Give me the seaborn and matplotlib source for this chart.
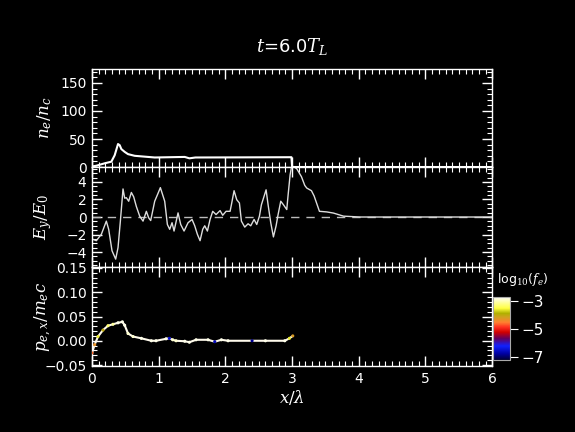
# ---------------------------
# Laser-plasma snapshot: density, field, phase space
# ---------------------------
import matplotlib
matplotlib.use("Agg")
import matplotlib.pyplot as plt
import seaborn as sns
from matplotlib.colors import LinearSegmentedColormap, Normalize
from matplotlib.cm import ScalarMappable
from matplotlib.ticker import MultipleLocator

# ---------------------------
# 1. Data
# ---------------------------
ne_x = [0.0, 0.065, 0.19, 0.29, 0.34, 0.39, 0.415, 0.44, 0.49, 0.54, 0.64, 0.94,
        1.39, 1.46, 1.55, 2.99, 3.0, 6.0]
ne_y = [1.0, 2.3, 6.6, 9.5, 21, 41, 39, 32, 27, 23, 20, 17,
        18, 15.5, 17, 17.5, 0.0, 0.0]

ey_x = [0.0, 0.065, 0.14, 0.215, 0.25, 0.30, 0.355, 0.39, 0.425, 0.465, 0.49, 0.515,
        0.55, 0.59, 0.625, 0.665, 0.715, 0.765, 0.815, 0.85, 0.88, 0.94, 0.99, 1.025,
        1.09, 1.13, 1.165, 1.2, 1.23, 1.29, 1.33, 1.38, 1.44, 1.5, 1.54, 1.58,
        1.62, 1.66, 1.69, 1.73, 1.77, 1.81, 1.86, 1.92, 1.96, 2.01, 2.07, 2.09,
        2.13, 2.17, 2.21, 2.24, 2.29, 2.34, 2.38, 2.43, 2.47, 2.51, 2.54, 2.61,
        2.64, 2.68, 2.72, 2.76, 2.79, 2.83, 2.87, 2.92, 2.94, 2.97, 2.995, 3.07,
        3.14, 3.19, 3.22, 3.29, 3.33, 3.41, 3.52, 3.62, 3.77, 4.02, 6.0]
ey_y = [-2.5, -2.7, -1.97, -0.47, -1.4, -3.84, -4.8, -3.5, -0.5, 3.2, 2.15, 2.2,
        1.8, 2.8, 2.3, 1.2, 0.1, -0.47, 0.65, -0.1, -0.4, 1.8, 2.7, 3.35,
        1.8, -0.85, -1.4, -0.65, -1.6, 0.47, -0.85, -1.6, -0.65, -0.28, -1.0, -1.97,
        -2.7, -1.4, -1.0, -1.6, -0.28, 0.65, 0.28, 0.73, 0.2, 0.65, 0.65, 1.4,
        3.0, 1.97, 1.6, -0.47, -1.15, -0.77, -1.0, -0.28, -0.85, 0.1, 1.4, 3.1,
        1.4, -0.65, -2.27, -1.0, 0.28, 1.8, 1.4, 0.85, 2.5, 4.8, 5.9, 5.5,
        4.6, 3.6, 3.3, 3.0, 2.4, 0.65, 0.58, 0.45, 0.1, 0.0, 0.0]

px_x = [0.0, 0.04, 0.09, 0.165, 0.24, 0.315, 0.39, 0.455, 0.49, 0.54, 0.615, 0.74,
        0.89, 0.96, 1.11, 1.16, 1.21, 1.26, 1.39, 1.46, 1.56, 1.74, 1.84, 1.94,
        2.04, 2.4, 2.6, 2.89, 2.96, 3.01]
px_y = [-0.025, -0.008, 0.0087, 0.022, 0.031, 0.034, 0.037, 0.039, 0.032, 0.015, 0.0087, 0.005,
        0.0, 0.0, 0.004, 0.005, 0.002, 0.0, -0.001, -0.003, 0.002, 0.002, -0.002, 0.002,
        0.0, 0.0, 0.0, 0.0, 0.005, 0.01]
px_logf = [-4.6, -4.3, -3.6, -4.0, -3.3, -3.1, -2.8, -2.8, -2.8, -2.9, -2.9, -2.8,
           -2.8, -2.8, -2.8, -6.5, -2.9, -2.9, -2.8, -2.8, -2.8, -2.8, -6.6, -2.8,
           -2.8, -6.8, -2.8, -2.8, -3.6, -4.2]

cbar_ticks = [-3, -5, -7]

# ---------------------------
# 2. Style
# ---------------------------
sns.set_style("dark", rc={
    "axes.facecolor": "black",
    "figure.facecolor": "black",
    "axes.edgecolor": "white",
    "text.color": "white",
    "axes.labelcolor": "white",
    "xtick.color": "white",
    "ytick.color": "white",
    "axes.grid": False,
})
plt.rcParams["font.family"] = ["DejaVu Sans"]
plt.rcParams["mathtext.fontset"] = "dejavuserif"

# IDL-like colour table: black-blue-red-orange-yellow-white
cmap = LinearSegmentedColormap.from_list("idl", [
    (0.00, "#000030"), (0.10, "#0000a0"), (0.22, "#1020ff"), (0.34, "#600060"),
    (0.44, "#d00000"), (0.52, "#ff3020"), (0.60, "#ff8030"), (0.68, "#d0a020"),
    (0.74, "#b0b000"), (0.82, "#ffff40"), (0.90, "#ffff90"), (1.00, "#ffffff")])
norm = Normalize(vmin=-7.2, vmax=-2.7)

fig = plt.figure(figsize=(5.75, 4.32), dpi=100)
left, width = 0.160, 0.696
ax1 = fig.add_axes([left, 0.6134, width, 0.2269])
ax2 = fig.add_axes([left, 0.3819, width, 0.2315])
ax3 = fig.add_axes([left, 0.1528, width, 0.2291])

# ---------------------------
# 3. Panels
# ---------------------------
sns.lineplot(x=ne_x, y=ne_y, ax=ax1, color="white", lw=1.5, sort=False)
ax1.set_ylim(0, 175)
ax1.yaxis.set_major_locator(MultipleLocator(50))
ax1.yaxis.set_minor_locator(MultipleLocator(10))

ax2.axhline(0, color="#bbbbbb", lw=1, ls=(0, (6, 5)))
sns.lineplot(x=ey_x, y=ey_y, ax=ax2, color="#dddddd", lw=1.0, sort=False)
ax2.set_ylim(-5.7, 5.7)
ax2.yaxis.set_major_locator(MultipleLocator(2))
ax2.yaxis.set_minor_locator(MultipleLocator(0.5))

sns.lineplot(x=px_x, y=px_y, ax=ax3, color="#fffaec", lw=1.5, sort=False)
sns.scatterplot(x=px_x, y=px_y, hue=px_logf, palette=cmap, hue_norm=norm,
                ax=ax3, s=5, linewidth=0, legend=False, zorder=3)
ax3.set_ylim(-0.052, 0.152)
ax3.yaxis.set_major_locator(MultipleLocator(0.05))
ax3.yaxis.set_minor_locator(MultipleLocator(0.01))
ax3.yaxis.set_major_formatter(lambda v, p: f"{v:.2f}".replace("-", "\u2212"))

for ax in (ax1, ax2, ax3):
    ax.set_xlim(0, 6)
    ax.xaxis.set_major_locator(MultipleLocator(1))
    ax.xaxis.set_minor_locator(MultipleLocator(0.1))
    ax.tick_params(which="both", direction="in", top=True, right=True,
                   bottom=True, left=True, labelsize=10, pad=4)
    ax.tick_params(which="major", length=7, width=1)
    ax.tick_params(which="minor", length=3.5, width=0.8)
    for s in ax.spines.values():
        s.set_color("white")
        s.set_linewidth(1.0)
    ax.yaxis.set_label_coords(-0.095, 0.5)

ax1.tick_params(labelbottom=False)
ax2.tick_params(labelbottom=False)

ax1.set_ylabel(r"$n_e/n_c$", fontsize=12)
ax2.set_ylabel(r"$E_y/E_0$", fontsize=12)
ax3.set_ylabel(r"$p_{e,x}/m_ec$", fontsize=12)
ax3.set_xlabel(r"$x/\lambda$", fontsize=12, labelpad=2)
ax1.set_title(r"$t$=6.0$T_L$", fontsize=13, pad=12)

# ---------------------------
# 4. Colour bar
# ---------------------------
cax = fig.add_axes([0.857, 0.1667, 0.0296, 0.146])
sm = ScalarMappable(norm=norm, cmap=cmap)
cb = fig.colorbar(sm, cax=cax, ticks=cbar_ticks)
cb.outline.set_edgecolor("#aaaaaa")
cb.ax.tick_params(direction="out", length=6, color="white", labelsize=11, pad=2)
cb.ax.set_yticklabels(["\u22123", "\u22125", "\u22127"])
fig.text(0.864, 0.352, r"log$_{10}$($f_e$)", fontsize=9, color="white",
         ha="left", va="center")

fig.savefig("out.png", dpi=100, facecolor="black")
